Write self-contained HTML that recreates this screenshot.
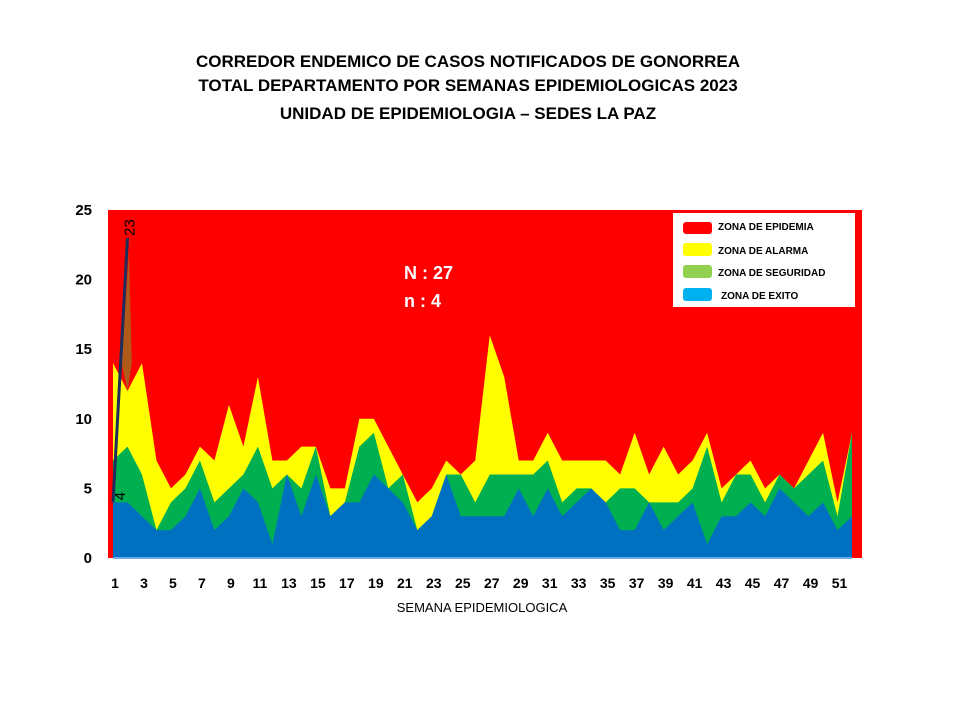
<!DOCTYPE html>
<html><head><meta charset="utf-8"><style>
body{margin:0;background:#fff;width:960px;height:720px;overflow:hidden;font-family:"Liberation Sans",Arial,sans-serif}
</style></head><body>
<svg width="960" height="720" xmlns="http://www.w3.org/2000/svg" font-family="Liberation Sans, Arial, sans-serif">
<g font-weight="bold" font-size="17" text-anchor="middle">
<text x="468" y="67">CORREDOR  ENDEMICO  DE CASOS NOTIFICADOS  DE GONORREA</text>
<text x="468" y="91">TOTAL DEPARTAMENTO  POR SEMANAS EPIDEMIOLOGICAS  2023</text>
<text x="468" y="119">UNIDAD  DE EPIDEMIOLOGIA  – SEDES LA PAZ</text>
</g>
<rect x="108" y="210" width="754" height="348" fill="#ff0000"/>
<g id="areas"></g>
<g id="yaxis" font-weight="bold" font-size="15" text-anchor="end"></g>
<g id="xaxis" font-weight="bold" font-size="14" text-anchor="middle"></g>
<line x1="113" y1="558" x2="852" y2="558" stroke="#6fa8e8" stroke-width="2"/>
<text x="482" y="612" font-size="13" text-anchor="middle">SEMANA EPIDEMIOLOGICA</text>
<g id="cases"></g>
<text x="404" y="279" fill="#fff" font-weight="bold" font-size="18">N : 27</text>
<text x="404" y="307" fill="#fff" font-weight="bold" font-size="18">n : 4</text>
<g font-weight="bold" font-size="10">
<rect x="673" y="213" width="182" height="94" fill="#fff"/>
<rect x="683" y="222" width="29" height="12" rx="3" fill="#ff0000"/>
<text x="718" y="230">ZONA DE EPIDEMIA</text>
<rect x="683" y="243" width="29" height="13" rx="3" fill="#ffff00"/>
<text x="718" y="254">ZONA DE ALARMA</text>
<rect x="683" y="265" width="29" height="13" rx="3" fill="#92d050"/>
<text x="718" y="276">ZONA DE  SEGURIDAD</text>
<rect x="683" y="288" width="29" height="13" rx="3" fill="#00b0f0"/>
<text x="721" y="299">ZONA DE  EXITO</text>
</g>
</svg>
<script>
const weeks=[1,2,3,4,5,6,7,8,9,10,11,12,13,14,15,16,17,18,19,20,21,22,23,24,25,26,27,28,29,30,31,32,33,34,35,36,37,38,39,40,41,42,43,44,45,46,47,48,49,50,51,52];
const exito=[4,4,3,2,2,3,5,2,3,5,4,1,6,3,6,3,4,4,6,5,4,2,3,6,3,3,3,3,5,3,5,3,4,5,4,2,2,4,2,3,4,1,3,3,4,3,5,4,3,4,2,3];
const seguridad=[7,8,6,2,4,5,7,4,5,6,8,5,6,5,8,3,4,8,9,5,6,2,3,6,6,4,6,6,6,6,7,4,5,5,4,5,5,4,4,4,5,8,4,6,6,4,6,5,6,7,3,9];
const alarma=[14,12,14,7,5,6,8,7,11,8,13,7,7,8,8,5,5,10,10,8,6,4,5,7,6,7,16,13,7,7,9,7,7,7,7,6,9,6,8,6,7,9,5,6,7,5,6,5,7,9,4,9];
const casesWeeks=[1,2];
const cases=[4,23];
const yTicks=[0,5,10,15,20,25];
const xTickLabels=[1,3,5,7,9,11,13,15,17,19,21,23,25,27,29,31,33,35,37,39,41,43,45,47,49,51];
const NS="http://www.w3.org/2000/svg";
const x=w=>113+(w-1)*(852-113)/51;
const y=v=>558-v*(348/25);
function mk(t,a,p){const e=document.createElementNS(NS,t);for(const k in a)e.setAttribute(k,a[k]);p.appendChild(e);return e;}
const areas=document.getElementById('areas');
function area(vals,color,name){
  let d='M'+x(weeks[0])+','+y(0);
  weeks.forEach((w,i)=>{d+=' L'+x(w)+','+y(vals[i]);});
  d+=' L'+x(weeks[weeks.length-1])+','+y(0)+' Z';
  const p=mk('path',{d:d,fill:color},areas);
  
  
}
area(alarma,'#ffff00','zona-alarma-area');
area(seguridad,'#00b050','zona-seguridad-area');
area(exito,'#0070c0','zona-exito-area');
const ya=document.getElementById('yaxis');
yTicks.forEach(v=>{const t=mk('text',{x:92,y:y(v)+5},ya);t.textContent=v;

});
const xa=document.getElementById('xaxis');
xTickLabels.forEach(v=>{const t=mk('text',{x:x(v)+2,y:588},xa);t.textContent=v;

});
const cg=document.getElementById('cases');
const bro=mk('path',{d:'M'+x(1.6)+','+y(14)+' L'+x(2)+','+y(12)+' L'+x(2.3)+','+y(14)+' L'+x(2.1)+','+y(22)+' Z',fill:'#b05a1a'},cg);


let pts=casesWeeks.map((w,i)=>x(w)+','+y(cases[i])).join(' ');
const ln=mk('polyline',{points:pts,fill:'none',stroke:'#1f2d5a','stroke-width':3},cg);


casesWeeks.forEach((w,i)=>{
  const tx=x(w)+(i==0?12:7), ty=y(cases[i])-(i==0?2:2);
  const t=mk('text',{x:tx,y:ty,'font-size':15,transform:'rotate(-90 '+tx+' '+ty+')'},cg);
  t.textContent=cases[i];
  
  
});
</script>
</body></html>
